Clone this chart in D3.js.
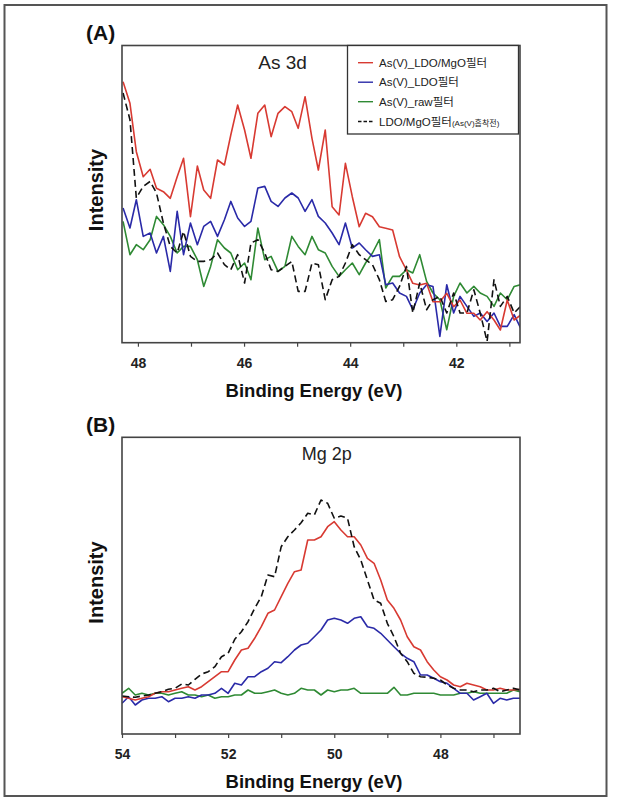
<!DOCTYPE html>
<html><head><meta charset="utf-8">
<script src="https://cdn.jsdelivr.net/npm/d3@7/dist/d3.min.js"></script>
<style>
html,body{margin:0;padding:0;background:#fff;}
svg text{font-family:"Liberation Sans",Arial,"Noto Sans CJK KR",sans-serif;}
</style></head>
<body>
<svg id="chart" width="617" height="804"></svg>
<script>
// ---------- Panel A: As 3d ----------
const energyA = [48.28,48.15,48.03,47.90,47.77,47.65,47.52,47.39,47.26,47.14,
  47.01,46.88,46.76,46.63,46.50,46.37,46.25,46.12,45.99,45.87,
  45.74,45.61,45.49,45.36,45.23,45.10,44.98,44.85,44.72,44.60,
  44.47,44.34,44.21,44.09,43.96,43.83,43.71,43.58,43.45,43.33,
  43.20,43.07,42.94,42.82,42.69,42.56,42.44,42.31,42.18,42.05,
  41.93,41.80,41.67,41.55,41.42,41.29,41.17,41.04,40.91,40.79];
const redA = [261.0,239.4,191.0,166.0,173.4,154.4,151.0,144.4,166.0,184.4,
  126.0,176.7,152.7,144.4,182.7,177.7,207.7,237.7,212.7,184.4,
  229.4,237.7,206.0,229.4,236.0,231.0,214.4,246.0,204.4,172.7,
  212.7,136.0,127.7,179.4,146.0,116.0,129.4,126.0,116.0,114.4,
  112.7,86.0,72.7,59.4,57.7,59.4,41.0,41.0,49.4,36.0,
  42.7,29.4,29.4,22.7,31.0,22.7,12.7,42.7,22.7,27.7];
const blueA = [134.7,114.7,143.0,106.3,109.7,89.7,106.3,71.3,131.3,88.0,
  119.7,98.0,116.3,121.3,106.3,123.0,141.3,124.7,116.3,121.3,
  154.7,156.3,141.3,136.3,144.7,149.7,144.7,131.3,143.0,126.3,
  119.7,109.7,98.0,119.7,94.7,99.7,93.0,86.3,88.0,58.0,
  59.7,49.7,46.3,33.0,49.7,58.0,56.3,6.3,58.0,29.7,
  46.3,36.3,26.3,29.7,21.3,29.7,16.3,16.3,28.0,14.7];
const greenA = [121.3,88.0,98.0,93.0,103.0,126.3,118.0,106.3,89.7,96.3,
  96.3,83.0,56.3,76.3,103.0,94.7,89.7,73.0,79.7,63.0,
  114.7,83.0,86.3,71.3,76.3,106.3,96.3,88.0,106.3,93.0,
  89.7,76.3,66.3,73.0,79.7,68.0,79.7,89.7,103.0,54.7,
  66.3,66.3,73.0,69.7,88.0,61.3,49.7,43.0,13.0,46.3,
  59.7,49.7,56.3,49.7,46.3,36.3,49.7,43.0,56.3,58.0];
const blackA = [249.7,223.0,144.7,156.3,161.3,149.7,119.7,96.3,89.7,111.3,
  86.3,81.3,81.3,83.0,89.7,78.0,73.0,88.0,59.7,99.7,
  103.0,89.7,73.0,71.3,76.3,81.3,51.3,51.3,79.7,78.0,
  43.0,63.0,66.3,79.7,98.0,88.0,83.0,78.0,63.0,41.3,
  43.0,56.3,76.3,29.7,59.7,33.0,43.0,46.3,29.7,49.7,
  29.7,29.7,53.0,29.7,1.3,63.0,36.3,46.3,29.7,36.3];
const ticksA = [48,46,44,42];
const minorA = [47,45,43,41];

// ---------- Panel B: Mg 2p ----------
const energyB = [54,53.875,53.75,53.625,53.5,53.375,53.25,53.125,53,52.875,
  52.75,52.625,52.5,52.375,52.25,52.125,52,51.875,51.75,51.625,
  51.5,51.375,51.25,51.125,51,50.875,50.75,50.625,50.5,50.375,
  50.25,50.125,50,49.875,49.75,49.625,49.5,49.375,49.25,49.125,
  49,48.875,48.75,48.625,48.5,48.375,48.25,48.125,48,47.875,
  47.75,47.625,47.5,47.375,47.25,47.125,47,46.875,46.75,46.625,46.5];
const redB = [37.3,35.7,34.0,35.7,37.3,40.7,42.3,42.3,44.0,45.7,
  47.3,44.0,47.3,52.3,57.3,62.3,62.3,74.0,84.0,85.7,
  95.7,107.3,120.7,124.0,137.3,150.7,162.3,164.0,194.0,194.0,
  197.3,207.3,212.3,204.0,197.3,197.3,189.0,175.7,170.7,154.0,
  134.0,125.7,114.0,97.3,87.3,84.0,72.3,64.0,57.3,54.0,
  49.0,47.3,50.7,49.0,47.3,44.0,44.0,45.7,44.0,44.0,44.7];
const blueB = [30.7,37.3,29.0,34.0,35.7,35.7,37.3,32.3,35.7,35.7,
  37.3,35.7,39.0,39.0,40.7,45.7,40.7,50.7,49.0,57.3,
  57.3,62.3,65.7,72.3,71.3,77.3,84.0,89.0,90.7,97.3,
  104.0,114.0,115.7,114.0,110.7,115.7,117.3,107.3,105.7,100.7,
  94.0,87.3,80.7,75.7,72.3,59.0,59.0,55.7,52.3,50.7,
  45.7,40.7,40.7,34.0,37.3,40.7,30.7,35.7,34.0,35.7,35.7];
const greenB = [40.7,45.7,39.0,40.7,39.0,40.7,40.7,39.0,40.7,42.3,
  39.0,39.0,37.3,39.0,35.7,37.3,37.3,39.0,39.0,44.0,
  40.7,40.7,42.3,44.0,40.7,39.0,40.7,45.7,44.0,44.0,
  39.0,44.0,42.3,44.0,44.0,45.7,40.7,40.7,40.7,40.7,
  40.7,46.7,39.0,39.0,40.7,40.7,40.7,40.7,39.0,39.0,
  39.0,40.7,40.7,42.3,40.7,40.7,40.7,40.7,40.7,44.0,42.3];
const blackB = [38.0,37.3,36.7,38.0,39.0,40.7,42.3,44.7,45.7,50.0,
  49.0,54.7,60.0,62.3,67.3,77.3,80.7,94.7,102.3,112.3,
  125.7,137.3,159.0,157.3,187.3,197.3,204.0,211.3,220.7,219.0,
  234.0,230.7,215.7,218.0,215.7,187.3,174.0,154.0,134.0,130.7,
  110.7,97.3,80.7,72.3,60.7,57.3,56.7,55.7,54.0,49.0,
  45.7,44.0,44.0,42.3,44.0,44.0,45.7,42.3,44.0,45.7,44.0];
const ticksB = [54,52,50,48];
const minorB = [53,51,49,47];

const legendLabels = ["As(V)_LDO/MgO필터","As(V)_LDO필터","As(V)_raw필터","LDO/MgO필터"];
const legendSub = "(As(V)흡착전)";

const COLORS = {red:"#d83a32", blue:"#2a2aa8", green:"#2f8a34", black:"#111"};

const svg = d3.select("#chart");
// outer frame
svg.append("rect").attr("x",4.5).attr("y",5).attr("width",602).attr("height",791)
  .attr("fill","none").attr("stroke","#555").attr("stroke-width",2);

function panel(opt){
  const g = svg.append("g");
  const x = d3.scaleLinear().domain(opt.xDomain).range([opt.left,opt.right]);
  const y = d3.scaleLinear().domain(opt.yDomain).range([opt.bottom,opt.top]);
  const clipId = "clip"+opt.id;
  svg.append("clipPath").attr("id",clipId).append("rect")
    .attr("x",opt.left).attr("y",opt.top).attr("width",opt.right-opt.left).attr("height",opt.bottom-opt.top);
  const line = d3.line().x((d,i)=>x(opt.energy[i])).y(d=>y(d));
  const series = [
    {v:opt.green, c:COLORS.green, dash:null},
    {v:opt.blue, c:COLORS.blue, dash:null},
    {v:opt.red, c:COLORS.red, dash:null},
    {v:opt.black, c:COLORS.black, dash:"7,4"}
  ];
  const lg = g.append("g").attr("clip-path",`url(#${clipId})`);
  series.forEach(s=>{
    lg.append("path").datum(s.v).attr("d",line).attr("fill","none")
      .attr("stroke",s.c).attr("stroke-width",1.6).attr("stroke-linejoin","round")
      .attr("stroke-dasharray",s.dash);
  });
  // bottom axis major
  const ax = d3.axisBottom(x).tickValues(opt.ticks).tickSize(4).tickPadding(11).tickFormat(d3.format("d"));
  const axg = g.append("g").attr("transform",`translate(0,${opt.bottom})`).call(ax);
  axg.select(".domain").remove();
  axg.selectAll("line").attr("stroke","#444").attr("stroke-width",1.2);
  axg.selectAll("text").attr("font-size",14).attr("font-weight","bold").attr("fill","#222")
    .style("font-family",'"Liberation Sans",Arial,sans-serif');
  const mx = d3.axisBottom(x).tickValues(opt.minor).tickSize(4).tickFormat("");
  const mg = g.append("g").attr("transform",`translate(0,${opt.bottom})`).call(mx);
  mg.select(".domain").remove();
  mg.selectAll("line").attr("stroke","#444").attr("stroke-width",1.2);
  // frame
  g.append("rect").attr("x",opt.left).attr("y",opt.top).attr("width",opt.right-opt.left)
    .attr("height",opt.bottom-opt.top).attr("fill","none").attr("stroke","#444").attr("stroke-width",1.6);
  // labels
  g.append("text").attr("x",86).attr("y",opt.labelY).attr("font-size",21).attr("font-weight","bold")
    .attr("fill","#111").text(opt.label);
  g.append("text").attr("x",opt.titleX).attr("y",opt.titleY).attr("text-anchor","middle")
    .attr("font-size",opt.titleSize).attr("fill","#222").text(opt.title);
  g.append("text").attr("x",314).attr("y",opt.bottom+54).attr("text-anchor","middle")
    .attr("font-size",18.5).attr("font-weight","bold").attr("fill","#111").text("Binding Energy (eV)");
  g.append("text").attr("transform",`translate(102.5,${opt.intY}) rotate(-90)`).attr("text-anchor","middle")
    .attr("font-size",20).attr("font-weight","bold").attr("fill","#111").text("Intensity");
  return {x,y};
}

panel({id:"A", left:122, right:520, top:45.5, bottom:342.7, xDomain:[48.3,40.8], yDomain:[0,297.2],
  energy:energyA, red:redA, blue:blueA, green:greenA, black:blackA, ticks:ticksA, minor:minorA,
  label:"(A)", labelY:39.5, title:"As 3d", titleX:282.5, titleY:68.5, titleSize:19, intY:190});

panel({id:"B", left:122, right:520, top:437.3, bottom:734, xDomain:[54,46.5], yDomain:[0,296.7],
  energy:energyB, red:redB, blue:blueB, green:greenB, black:blackB, ticks:ticksB, minor:minorB,
  label:"(B)", labelY:432, title:"Mg 2p", titleX:326.7, titleY:459.5, titleSize:18, intY:582.5});

// legend
const leg = svg.append("g");
leg.append("rect").attr("x",347.5).attr("y",45.5).attr("width",171).attr("height",88.5)
  .attr("fill","#fff").attr("stroke","#333").attr("stroke-width",1.3);
const legColors = [COLORS.red, COLORS.blue, COLORS.green, COLORS.black];
const legY = [62.7, 82.2, 101.7, 121.5];
legendLabels.forEach((t,i)=>{
  leg.append("line").attr("x1",358).attr("x2",373).attr("y1",legY[i]).attr("y2",legY[i])
    .attr("stroke",legColors[i]).attr("stroke-width",1.4).attr("stroke-dasharray",i===3?"3.5,2":null);
  const tx = leg.append("text").attr("x",379).attr("y",legY[i]+4).attr("font-size",11.5).attr("fill","#222");
  tx.append("tspan").text(t);
  if(i===3) tx.append("tspan").attr("font-size",8).text(legendSub);
});
</script>
</body></html>
